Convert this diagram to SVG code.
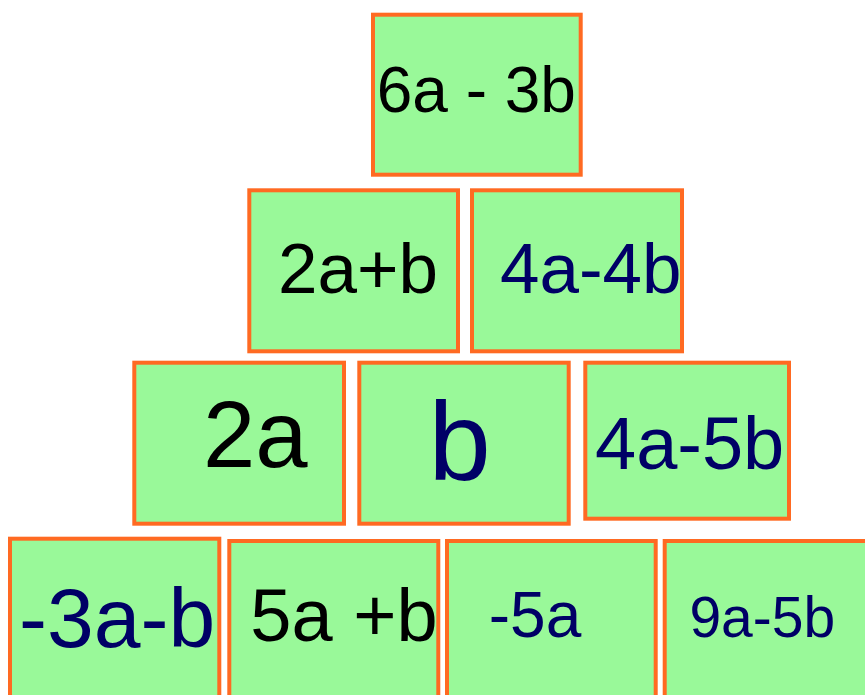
<svg xmlns="http://www.w3.org/2000/svg" width="865" height="695" viewBox="0 0 865 695">
<style>
.box{fill:#99F999;stroke:#FF6A22;stroke-width:4}
.t{font-family:"Liberation Sans",Arial,sans-serif}
.k{fill:#000000}
.n{fill:#000066}
</style>
<rect width="865" height="695" fill="#FFFFFF"/>
<g id="n-top"><rect class="box" x="373" y="14.7" width="207.7" height="160"/><text class="t k" x="376.7" y="111.7" font-size="64">6a - 3b</text></g>
<g id="n-r2a"><rect class="box" x="249.3" y="190.3" width="208.7" height="161"/><text class="t k" x="278" y="293.3" font-size="71">2a+b</text></g>
<g id="n-r2b"><rect class="box" x="472" y="190.3" width="210" height="161"/><text class="t n" x="500" y="293.3" font-size="71">4a-4b</text></g>
<g id="n-r3a"><rect class="box" x="134.3" y="362.7" width="209.7" height="161"/><text class="t k" x="203" y="467" font-size="94">2a</text></g>
<g id="n-r3b"><rect class="box" x="359.3" y="362.7" width="209.4" height="161"/><text class="t n" x="428.6" y="480" font-size="112">b</text></g>
<g id="n-r3c"><rect class="box" x="585.3" y="362.7" width="203.7" height="156"/><text class="t n" x="595" y="469" font-size="74">4a-5b</text></g>
<g id="n-r4a"><rect class="box" x="10" y="538.7" width="209.3" height="200"/><text class="t n" x="19" y="646.7" font-size="84">-3a-b</text></g>
<g id="n-r4b"><rect class="box" x="229.3" y="541" width="209" height="200"/><text class="t k" x="250.3" y="641" font-size="74">5a +b</text></g>
<g id="n-r4c"><rect class="box" x="447" y="541" width="208.7" height="200"/><text class="t n" x="488.8" y="636.7" font-size="64">-5a</text></g>
<g id="n-r4d"><rect class="box" x="664.7" y="541" width="250" height="200"/><text class="t n" x="689.4" y="636.7" font-size="57">9a-5b</text></g>
<g id="connectors"></g>
</svg>
